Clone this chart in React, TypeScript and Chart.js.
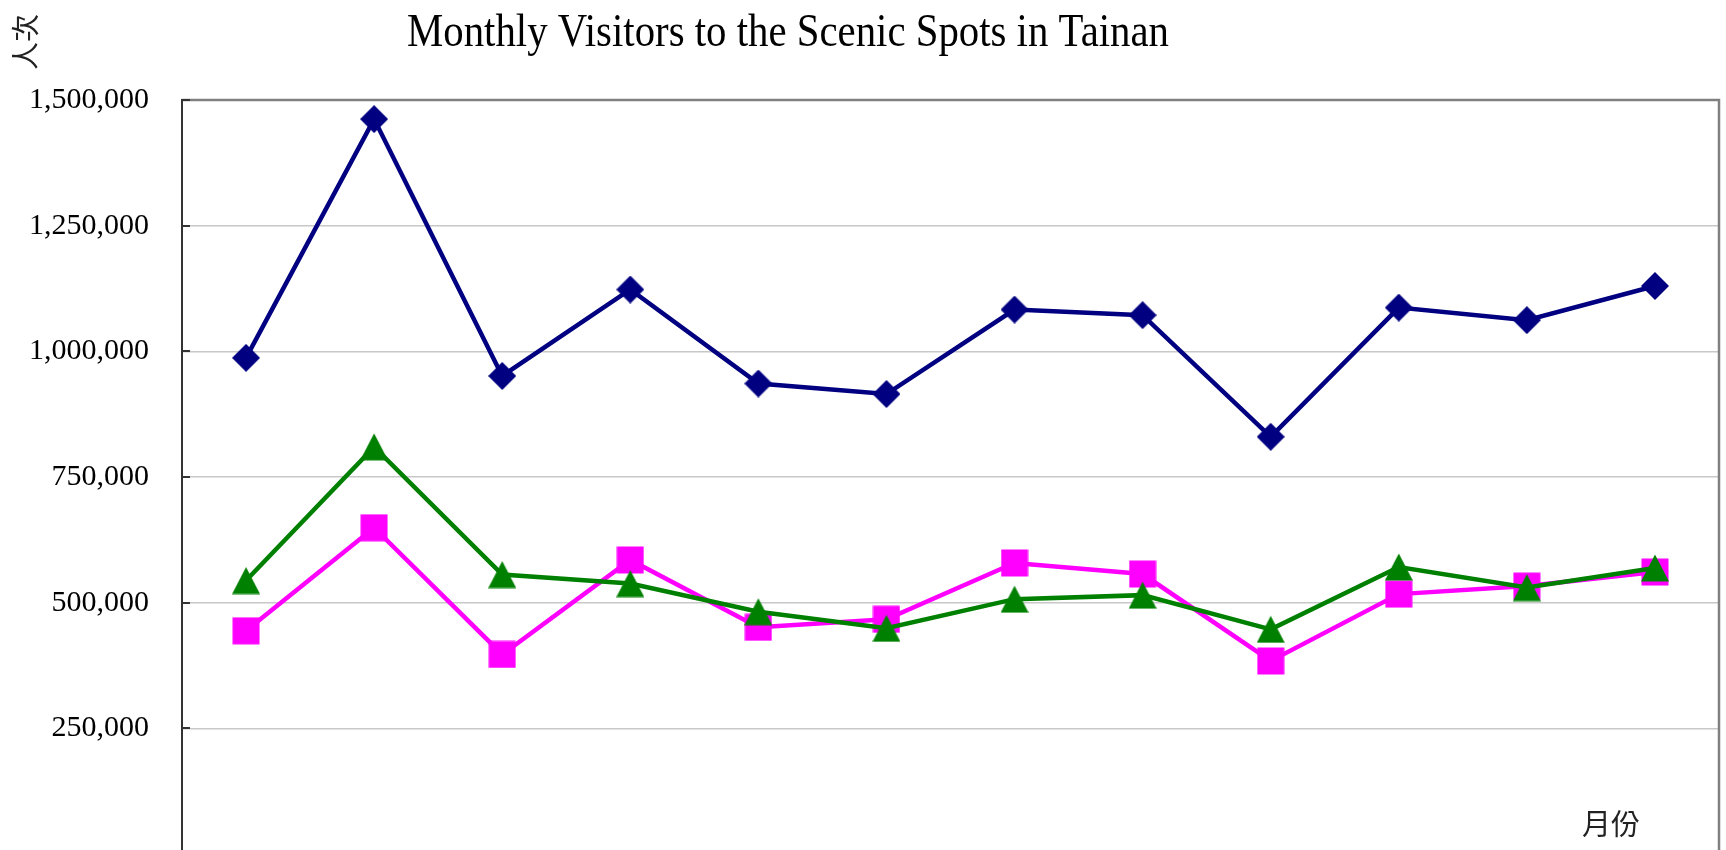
import React, { useEffect, useRef } from 'react';
import { Chart, registerables } from 'chart.js';

Chart.register(...registerables);

const months = ['1', '2', '3', '4', '5', '6', '7', '8', '9', '10', '11', '12'];
const seriesNavy = [987000, 1462000, 951000, 1123000, 936000, 915000, 1083000, 1072000, 830000, 1087000, 1062000, 1130000];
const seriesPink = [444000, 649000, 397000, 585000, 451000, 467000, 579000, 557000, 384000, 517000, 533000, 561000];
const seriesGreen = [544000, 810000, 556000, 538000, 482000, 449000, 507000, 515000, 447000, 571000, 530000, 569000];
const yTicks = [250000, 500000, 750000, 1000000, 1250000, 1500000];
const titleText = 'Monthly Visitors to the Scenic Spots in Tainan';
const yTitle = '人次';
const xTitle = '月份';

function makeMarker(kind: string, color: string): HTMLCanvasElement {
  const c = document.createElement('canvas');
  const s = 28;
  c.width = s;
  c.height = s;
  const g = c.getContext('2d')!;
  g.fillStyle = color;
  g.beginPath();
  if (kind === 'diamond') {
    g.moveTo(s / 2, 0);
    g.lineTo(s, s / 2);
    g.lineTo(s / 2, s);
    g.lineTo(0, s / 2);
  } else if (kind === 'square') {
    g.rect(0.5, 0.5, 27, 27);
  } else {
    g.moveTo(s / 2, 0.5);
    g.lineTo(s, 27.5);
    g.lineTo(0, 27.5);
  }
  g.closePath();
  g.fill();
  return c;
}

const decor = {
  id: 'decor',
  beforeDatasetsDraw(chart: any) {
    const { ctx, chartArea: a, scales } = chart;
    const y = scales.y;
    ctx.save();
    ctx.strokeStyle = '#808080';
    ctx.lineWidth = 2.5;
    ctx.beginPath();
    ctx.moveTo(a.left, a.top);
    ctx.lineTo(a.right, a.top);
    ctx.lineTo(a.right, a.bottom);
    ctx.stroke();
    ctx.strokeStyle = '#333333';
    ctx.lineWidth = 2;
    ctx.beginPath();
    ctx.moveTo(a.left, a.top - 1);
    ctx.lineTo(a.left, a.bottom);
    ctx.stroke();
    ctx.beginPath();
    for (const v of yTicks) {
      const py = Math.round(y.getPixelForValue(v));
      ctx.moveTo(a.left, py);
      ctx.lineTo(a.left + 8, py);
    }
    ctx.stroke();
    ctx.restore();
  },
  afterDraw(chart: any) {
    const { ctx } = chart;
    ctx.save();
    ctx.fillStyle = '#000';
    ctx.font = '46px "Liberation Serif"';
    ctx.textAlign = 'center';
    ctx.textBaseline = 'alphabetic';
    const w = ctx.measureText(titleText).width;
    const sx = 762 / w;
    ctx.translate(788, 46);
    ctx.scale(sx, 1);
    ctx.fillText(titleText, 0, 0);
    ctx.restore();

    ctx.save();
    ctx.fillStyle = '#222';
    ctx.font = '28px "Noto Sans CJK TC"';
    ctx.textAlign = 'center';
    ctx.textBaseline = 'middle';
    ctx.translate(25, 42);
    ctx.rotate(-Math.PI / 2);
    ctx.fillText(yTitle, 0, 0);
    ctx.restore();

    ctx.save();
    ctx.fillStyle = '#222';
    ctx.font = '29px "Noto Sans CJK TC"';
    ctx.textAlign = 'center';
    ctx.textBaseline = 'middle';
    ctx.fillText(xTitle, 1611, 824);
    ctx.restore();
  },
};

export default function App() {
  const ref = useRef<HTMLCanvasElement | null>(null);
  useEffect(() => {
    document.body.style.margin = '0';
    document.documentElement.style.overflow = 'hidden';
    document.body.style.overflow = 'hidden';
    const canvas = ref.current!;
    const chart = new Chart(canvas, {
      type: 'line',
      data: {
        labels: months,
        datasets: [
          {
            label: 'Series 1',
            data: seriesNavy,
            borderColor: '#000080',
            backgroundColor: '#000080',
            borderWidth: 4.5,
            pointStyle: makeMarker('diamond', '#000080') as any,
            pointRadius: 10,
            tension: 0,
            order: 3,
          },
          {
            label: 'Series 2',
            data: seriesPink,
            borderColor: '#FF00FF',
            backgroundColor: '#FF00FF',
            borderWidth: 4.5,
            pointStyle: makeMarker('square', '#FF00FF') as any,
            pointRadius: 10,
            tension: 0,
            order: 2,
          },
          {
            label: 'Series 3',
            data: seriesGreen,
            borderColor: '#008000',
            backgroundColor: '#008000',
            borderWidth: 4.5,
            pointStyle: makeMarker('triangle', '#008000') as any,
            pointRadius: 10,
            tension: 0,
            order: 1,
          },
        ],
      },
      options: {
        responsive: false,
        animation: false,
        devicePixelRatio: 1,
        layout: { autoPadding: false, padding: { left: 0, top: 100, right: 7, bottom: 0 } },
        plugins: {
          legend: { display: false },
          title: { display: false },
          tooltip: { enabled: false },
        },
        scales: {
          x: {
            type: 'category',
            offset: true,
            grid: { display: false, drawTicks: false },
            border: { display: true, color: '#333', width: 2 },
            ticks: { display: false },
            afterFit: (s: any) => {
              s.height = 60;
            },
          },
          y: {
            min: 0,
            max: 1500000,
            grid: { color: '#c8c8c8', lineWidth: 1.5, drawTicks: false },
            border: { display: false },
            ticks: {
              stepSize: 250000,
              padding: 33,
              color: '#000',
              font: { family: 'Liberation Serif', size: 30 },
              callback: (v: any) => (Number(v) === 0 ? '' : Number(v).toLocaleString('en-US')),
            },
            afterFit: (s: any) => {
              s.width = 182;
            },
          },
        },
      },
      plugins: [decor],
    });
    return () => chart.destroy();
  }, []);
  return (
    <div style={{ width: 1726, height: 914 }}>
      <canvas ref={ref} width={1726} height={914} style={{ display: 'block' }} />
    </div>
  );
}
